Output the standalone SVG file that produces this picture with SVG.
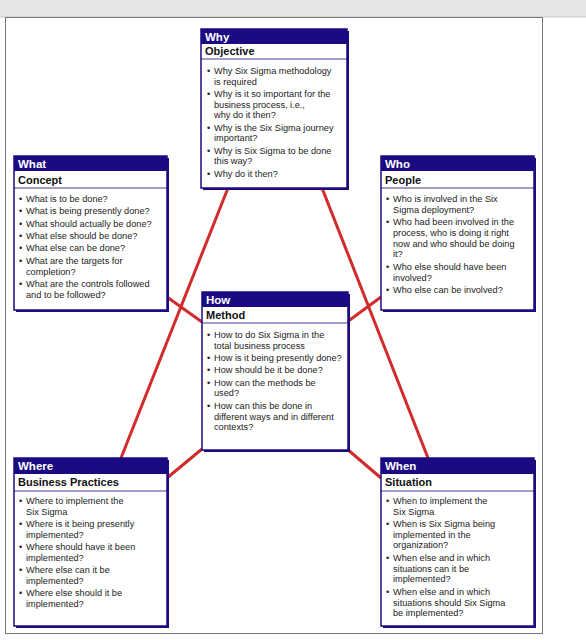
<svg xmlns="http://www.w3.org/2000/svg" width="586" height="640" viewBox="0 0 586 640">
<style>
.hd{fill:#1b0b82}
.bx{fill:#fff;stroke:#1b0b82;stroke-width:1.5}
.sh{fill:#1b0b82}
.sep{stroke:#1b0b82;stroke-width:0.8}
.t1{font-family:"Liberation Sans",Arial,sans-serif;font-size:11.5px;font-weight:bold;fill:#fff}
.t2{font-family:"Liberation Sans",Arial,sans-serif;font-size:11px;font-weight:bold;fill:#111}
.tb{font-family:"Liberation Sans",Arial,sans-serif;font-size:9.2px;fill:#222}
.ln{stroke:#d22b2b;stroke-width:3;fill:none}
</style>
<rect x="0" y="0" width="586" height="17" fill="#e6e6e6"/>
<line x1="0" y1="17" x2="586" y2="17" stroke="#c8c8c8" stroke-width="1"/>
<rect x="5.5" y="17.5" width="537" height="616" fill="#fff" stroke="#777" stroke-width="1"/>
<g id="connectors">
<line class="ln" x1="228" y1="188" x2="121" y2="458"/>
<line class="ln" x1="322" y1="188" x2="428" y2="458"/>
<line class="ln" x1="167" y1="297" x2="202" y2="322"/>
<line class="ln" x1="381" y1="297" x2="347" y2="322"/>
<line class="ln" x1="202" y1="449" x2="167" y2="478"/>
<line class="ln" x1="347" y1="449" x2="381" y2="478"/>
</g>
<g id="why">
<rect class="sh" x="203" y="31" width="146" height="159"/>
<rect class="bx" x="201" y="29" width="146" height="159"/>
<rect class="hd" x="201" y="29" width="146" height="15"/>
<line class="sep" x1="201" y1="59" x2="347" y2="59"/>
<text class="t1" x="205" y="41">Why</text>
<text class="t2" x="205" y="55">Objective</text>
<text class="tb"><tspan x="207" y="74">•</tspan><tspan x="214" y="74">Why Six Sigma methodology</tspan><tspan x="214" y="84.5">is required</tspan><tspan x="207" y="97">•</tspan><tspan x="214" y="97">Why is it so important for the</tspan><tspan x="214" y="107.5">business process, i.e.,</tspan><tspan x="214" y="118">why do it then?</tspan><tspan x="207" y="130.5">•</tspan><tspan x="214" y="130.5">Why is the Six Sigma journey</tspan><tspan x="214" y="141">important?</tspan><tspan x="207" y="153.5">•</tspan><tspan x="214" y="153.5">Why is Six Sigma to be done</tspan><tspan x="214" y="164">this way?</tspan><tspan x="207" y="176.5">•</tspan><tspan x="214" y="176.5">Why do it then?</tspan></text>
</g>
<g id="what">
<rect class="sh" x="16" y="158" width="153" height="154"/>
<rect class="bx" x="14" y="156" width="153" height="154"/>
<rect class="hd" x="14" y="156" width="153" height="15"/>
<line class="sep" x1="14" y1="188" x2="167" y2="188"/>
<text class="t1" x="18" y="168">What</text>
<text class="t2" x="18" y="184">Concept</text>
<text class="tb"><tspan x="19" y="202">•</tspan><tspan x="26" y="202">What is to be done?</tspan><tspan x="19" y="214">•</tspan><tspan x="26" y="214">What is being presently done?</tspan><tspan x="19" y="226.5">•</tspan><tspan x="26" y="226.5">What should actually be done?</tspan><tspan x="19" y="239">•</tspan><tspan x="26" y="239">What else should be done?</tspan><tspan x="19" y="251">•</tspan><tspan x="26" y="251">What else can be done?</tspan><tspan x="19" y="264">•</tspan><tspan x="26" y="264">What are the targets for</tspan><tspan x="26" y="274.5">completion?</tspan><tspan x="19" y="287">•</tspan><tspan x="26" y="287">What are the controls followed</tspan><tspan x="26" y="297.5">and to be followed?</tspan></text>
</g>
<g id="who">
<rect class="sh" x="383" y="158" width="153" height="154"/>
<rect class="bx" x="381" y="156" width="153" height="154"/>
<rect class="hd" x="381" y="156" width="153" height="15"/>
<line class="sep" x1="381" y1="188" x2="534" y2="188"/>
<text class="t1" x="385" y="168">Who</text>
<text class="t2" x="385" y="184">People</text>
<text class="tb"><tspan x="386" y="202">•</tspan><tspan x="393" y="202">Who is involved in the Six</tspan><tspan x="393" y="212.5">Sigma deployment?</tspan><tspan x="386" y="225">•</tspan><tspan x="393" y="225">Who had been involved in the</tspan><tspan x="393" y="235.5">process, who is doing it right</tspan><tspan x="393" y="246.5">now and who should be doing</tspan><tspan x="393" y="257">it?</tspan><tspan x="386" y="270">•</tspan><tspan x="393" y="270">Who else should have been</tspan><tspan x="393" y="280.5">involved?</tspan><tspan x="386" y="293">•</tspan><tspan x="393" y="293">Who else can be involved?</tspan></text>
</g>
<g id="how">
<rect class="sh" x="204" y="294" width="146" height="158"/>
<rect class="bx" x="202" y="292" width="146" height="158"/>
<rect class="hd" x="202" y="292" width="146" height="15"/>
<line class="sep" x1="202" y1="323" x2="348" y2="323"/>
<text class="t1" x="206" y="304">How</text>
<text class="t2" x="206" y="319">Method</text>
<text class="tb"><tspan x="207" y="338">•</tspan><tspan x="214" y="338">How to do Six Sigma in the</tspan><tspan x="214" y="348.5">total business process</tspan><tspan x="207" y="361">•</tspan><tspan x="214" y="361">How is it being presently done?</tspan><tspan x="207" y="373">•</tspan><tspan x="214" y="373">How should be it be done?</tspan><tspan x="207" y="385.5">•</tspan><tspan x="214" y="385.5">How can the methods be</tspan><tspan x="214" y="396">used?</tspan><tspan x="207" y="409">•</tspan><tspan x="214" y="409">How can this be done in</tspan><tspan x="214" y="419.5">different ways and in different</tspan><tspan x="214" y="430">contexts?</tspan></text>
</g>
<g id="where">
<rect class="sh" x="16" y="460" width="153" height="168"/>
<rect class="bx" x="14" y="458" width="153" height="168"/>
<rect class="hd" x="14" y="458" width="153" height="16"/>
<line class="sep" x1="14" y1="491" x2="167" y2="491"/>
<text class="t1" x="18" y="470">Where</text>
<text class="t2" x="18" y="486">Business Practices</text>
<text class="tb"><tspan x="19" y="504">•</tspan><tspan x="26" y="504">Where to implement the</tspan><tspan x="26" y="514.5">Six Sigma</tspan><tspan x="19" y="527">•</tspan><tspan x="26" y="527">Where is it being presently</tspan><tspan x="26" y="537.5">implemented?</tspan><tspan x="19" y="550">•</tspan><tspan x="26" y="550">Where should have it been</tspan><tspan x="26" y="560.5">implemented?</tspan><tspan x="19" y="573">•</tspan><tspan x="26" y="573">Where else can it be</tspan><tspan x="26" y="583.5">implemented?</tspan><tspan x="19" y="596">•</tspan><tspan x="26" y="596">Where else should it be</tspan><tspan x="26" y="606.5">implemented?</tspan></text>
</g>
<g id="when">
<rect class="sh" x="383" y="460" width="153" height="168"/>
<rect class="bx" x="381" y="458" width="153" height="168"/>
<rect class="hd" x="381" y="458" width="153" height="16"/>
<line class="sep" x1="381" y1="491" x2="534" y2="491"/>
<text class="t1" x="385" y="470">When</text>
<text class="t2" x="385" y="486">Situation</text>
<text class="tb"><tspan x="386" y="504">•</tspan><tspan x="393" y="504">When to implement the</tspan><tspan x="393" y="514.5">Six Sigma</tspan><tspan x="386" y="527">•</tspan><tspan x="393" y="527">When is Six Sigma being</tspan><tspan x="393" y="537.5">implemented in the</tspan><tspan x="393" y="548">organization?</tspan><tspan x="386" y="561">•</tspan><tspan x="393" y="561">When else and in which</tspan><tspan x="393" y="571.5">situations can it be</tspan><tspan x="393" y="582">implemented?</tspan><tspan x="386" y="595">•</tspan><tspan x="393" y="595">When else and in which</tspan><tspan x="393" y="605.5">situations should Six Sigma</tspan><tspan x="393" y="616">be implemented?</tspan></text>
</g>
</svg>
